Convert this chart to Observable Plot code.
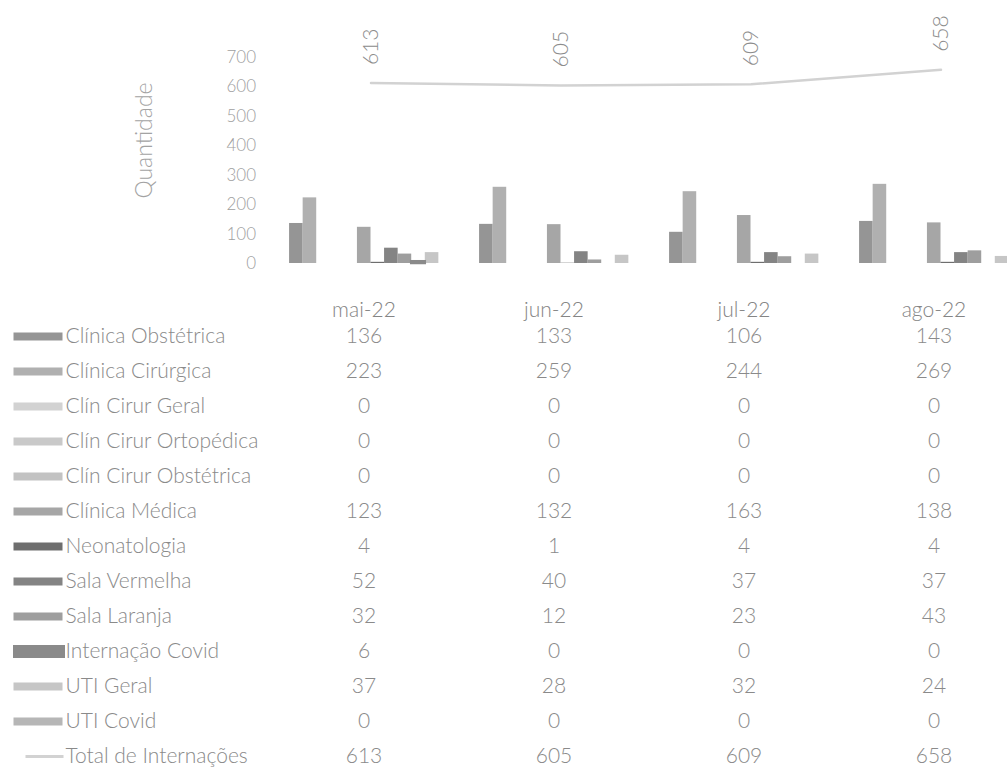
<!DOCTYPE html>
<html>
<head>
<meta charset="utf-8">
<script src="https://cdn.jsdelivr.net/npm/d3@7"></script>
<script src="https://cdn.jsdelivr.net/npm/@observablehq/plot@0.6"></script>
<style>
  html, body { margin: 0; padding: 0; background: #fff; overflow: hidden; }
  #chart svg { display: block; }
</style>
</head>
<body>
<div id="chart"></div>
<script>
// ---- data ----
const months = ["mai-22", "jun-22", "jul-22", "ago-22"];
const seriesNames = [
  "Clínica Obstétrica", "Clínica Cirúrgica", "Clín Cirur Geral", "Clín Cirur Ortopédica",
  "Clín Cirur Obstétrica", "Clínica Médica", "Neonatologia", "Sala Vermelha",
  "Sala Laranja", "Internação Covid", "UTI Geral", "UTI Covid"
];
const clinicaObstetrica = [136, 133, 106, 143];
const clinicaCirurgica = [223, 259, 244, 269];
const clinCirurGeral = [0, 0, 0, 0];
const clinCirurOrtopedica = [0, 0, 0, 0];
const clinCirurObstetrica = [0, 0, 0, 0];
const clinicaMedica = [123, 132, 163, 138];
const neonatologia = [4, 1, 4, 4];
const salaVermelha = [52, 40, 37, 37];
const salaLaranja = [32, 12, 23, 43];
const internacaoCovid = [6, 0, 0, 0];
const utiGeral = [37, 28, 32, 24];
const utiCovid = [0, 0, 0, 0];
const totalLabel = "Total de Internações";
const totalInternacoes = [613, 605, 609, 658];
const yTicks = [0, 100, 200, 300, 400, 500, 600, 700];
const seriesColors = [
  "#959595", "#b0b0b0", "#d2d2d2", "#c9c9c9", "#c2c2c2", "#a6a6a6",
  "#6e6e6e", "#848484", "#9e9e9e", "#8a8a8a", "#c6c6c6", "#b6b6b6"
];
const outlinedSeries = "Internação Covid";

// ---- tables built from the arrays ----
const seriesValues = [
  clinicaObstetrica, clinicaCirurgica, clinCirurGeral, clinCirurOrtopedica,
  clinCirurObstetrica, clinicaMedica, neonatologia, salaVermelha,
  salaLaranja, internacaoCovid, utiGeral, utiCovid
];
const slots = seriesNames.length + 2; // one gap slot each side of a group
const bars = seriesNames.flatMap((name, j) =>
  months.map((m, i) => ({series: name, month: m, i, j, value: seriesValues[j][i]})));
const totals = months.map((m, i) => ({month: m, i, value: totalInternacoes[i]}));
const rowNames = [...seriesNames, totalLabel];
const cells = rowNames.flatMap((row, j) =>
  months.map((m, i) => ({row, i, value: j < seriesNames.length ? seriesValues[j][i] : totalInternacoes[i]})));

const FONT = "Lato, 'Open Sans', sans-serif";
const xScale = {domain: [0, months.length], range: [275.5, 1035.5], axis: null};
const colorScale = {domain: seriesNames, range: seriesColors};
const barX = {x1: d => d.i + (d.j + 1) / slots, x2: d => d.i + (d.j + 2) / slots, y: "value"};

const chart = Plot.plot({
  width: 1007,
  height: 280,
  marginTop: 57,
  marginBottom: 17,
  marginLeft: 275.5,
  marginRight: 0,
  style: {fontFamily: FONT, fontSize: "17px", fontWeight: 300, color: "#a0a0a0", background: "transparent"},
  x: xScale,
  y: {domain: [0, 700], ticks: yTicks, tickSize: 0, tickPadding: 20, label: null},
  color: colorScale,
  marks: [
    Plot.rectY(bars, {...barX, fill: "series"}),
    Plot.rectY(bars.filter(d => d.series === outlinedSeries && d.value > 0),
      {...barX, fill: "series", stroke: "series", strokeWidth: 2.5}),
    Plot.line(totals, {x: d => d.i + 0.5, y: "value", stroke: "#d2d2d2", strokeWidth: 2.5}),
    Plot.text(totals, {
      x: d => d.i + 0.5, y: "value", text: d => String(d.value),
      rotate: -90, textAnchor: "start", dy: -18, fontSize: 21, fill: "#8c8c8c"
    }),
    Plot.text(["Quantidade"], {
      frameAnchor: "left", textAnchor: "middle", text: d => d, rotate: -90, dx: -131, dy: -20,
      fontSize: 23, fill: "#a3a3a3"
    })
  ]
});

const rectSymbol = (w, h) => ({
  draw(ctx) {
    ctx.moveTo(-w / 2, -h / 2); ctx.lineTo(w / 2, -h / 2); ctx.lineTo(w / 2, h / 2); ctx.lineTo(-w / 2, h / 2); ctx.closePath();
  }
});

const table = Plot.plot({
  width: 1007,
  height: 493,
  marginTop: 0,
  marginBottom: 0,
  marginLeft: 0,
  marginRight: 0,
  style: {fontFamily: FONT, fontSize: "21px", fontWeight: 300, color: "#808080", background: "transparent"},
  x: xScale,
  y: {type: "point", domain: rowNames, range: [52, 480], padding: 0, axis: null},
  color: colorScale,
  marks: [
    Plot.text(months, {x: (d, i) => i + 0.5, text: d => d, frameAnchor: "top", dy: 22, dx: -7, fill: "#858585", fontSize: 21}),
    Plot.dot(seriesNames.filter(d => d !== outlinedSeries),
      {y: d => d, frameAnchor: "left", dx: 37.5, symbol: rectSymbol(49, 8), fill: d => d}),
    Plot.dot([outlinedSeries],
      {y: d => d, frameAnchor: "left", dx: 38.5, symbol: rectSymbol(52, 13), fill: d => d}),
    Plot.dot([totalLabel], {y: d => d, frameAnchor: "left", dx: 44, symbol: rectSymbol(38, 3), fill: "#d2d2d2"}),
    Plot.text(rowNames, {y: d => d, text: d => d, frameAnchor: "left", dx: 65, textAnchor: "start", fill: "#8a8a8a", fontSize: 21}),
    Plot.text(cells, {x: d => d.i + 0.5, y: "row", dx: -7, text: d => String(d.value), fill: "#8a8a8a", fontSize: 21})
  ]
});

const root = document.getElementById("chart");
root.appendChild(chart);
root.appendChild(table);
</script>
</body>
</html>
